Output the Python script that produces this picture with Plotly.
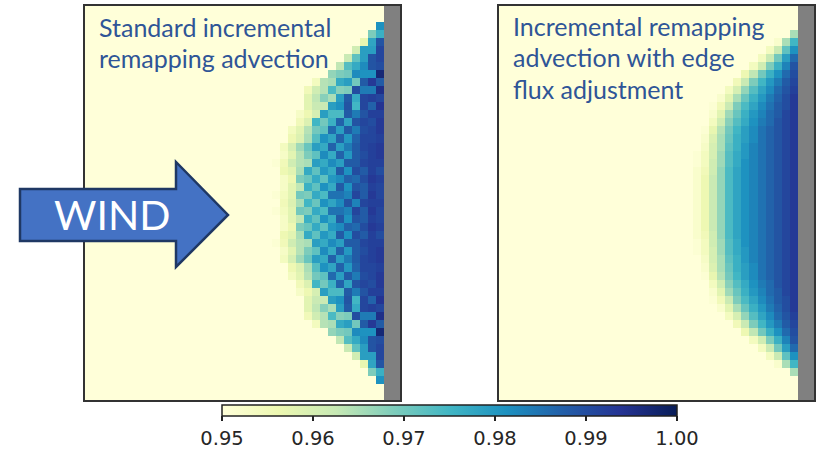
import plotly.graph_objects as go

W, H = 816, 449
N_COLS, N_ROWS, LAND_COLS = 40, 49, 2
BASE = 0.95
TICKS = [0.95, 0.96, 0.97, 0.98, 0.99, 1.00]
TITLES_LEFT = ["Standard incremental", "remapping advection"]
TITLES_RIGHT = ["Incremental remapping", "advection with edge", "flux adjustment"]
COLORSCALE = ["#ffffd9", "#edf8b1", "#c7e9b4", "#7fcdbb", "#41b6c4",
              "#1d91c0", "#225ea8", "#253494", "#081d58"]

# Values by row, listed from the coast (rightmost ocean cell) toward the west.
standard_top_half = [
    [.981],
    [.976, .969],
    [.989, .978, .957],
    [.991, .979, .979, .961],
    [.991, .989, .979, .972, .962],
    [.990, .989, .982, .977, .973, .963],
    [.997, .981, .981, .982, .970, .969, .967],
    [.988, .993, .988, .970, .979, .977, .965, .964, .954],
    [.995, .984, .984, .990, .969, .968, .974, .964, .961, .955],
    [.991, .992, .991, .977, .988, .979, .965, .968, .963, .958],
    [.994, .987, .991, .975, .989, .981, .979, .962, .962, .958],
    [.992, .992, .989, .984, .988, .974, .974, .979, .960, .956, .953],
    [.993, .990, .991, .989, .978, .987, .976, .970, .975, .959, .955],
    [.993, .991, .990, .984, .988, .979, .986, .972, .970, .964, .958, .954],
    [.992, .991, .991, .987, .980, .987, .978, .981, .973, .965, .959, .956],
    [.993, .992, .991, .988, .984, .979, .987, .977, .979, .971, .966, .960, .954],
    [.993, .992, .990, .988, .980, .987, .977, .982, .972, .969, .964, .958, .953],
    [.992, .992, .991, .988, .988, .979, .982, .977, .979, .965, .964, .961, .955, .951],
    [.990, .992, .988, .990, .981, .988, .977, .980, .972, .977, .965, .958, .956],
    [.992, .993, .990, .986, .987, .982, .980, .972, .977, .971, .969, .956, .953],
    [.991, .992, .988, .989, .981, .988, .977, .981, .972, .976, .963, .958, .953],
    [.991, .993, .988, .991, .983, .985, .985, .974, .977, .969, .970, .958, .954, .951],
    [.992, .992, .991, .983, .989, .982, .978, .981, .971, .975, .965, .959, .955],
]
adjusted_top_half = [
    [.965],
    [.975, .965, .952],
    [.981, .972, .962, .954],
    [.986, .979, .970, .962, .954],
    [.989, .983, .976, .969, .961, .954],
    [.990, .986, .981, .976, .970, .963, .956],
    [.991, .988, .984, .980, .975, .969, .962, .955],
    [.992, .989, .986, .982, .978, .973, .967, .960, .954],
    [.993, .990, .987, .984, .980, .976, .971, .965, .958, .952],
    [.993, .990, .988, .985, .982, .978, .974, .969, .962, .955, .951],
    [.993, .991, .988, .986, .983, .980, .976, .971, .966, .958, .952],
    [.993, .991, .989, .986, .984, .981, .977, .973, .968, .961, .954],
    [.993, .991, .989, .987, .985, .982, .979, .975, .970, .964, .957, .951],
    [.993, .991, .989, .987, .985, .982, .979, .976, .971, .965, .959, .952],
    [.993, .991, .989, .987, .985, .983, .980, .976, .972, .965, .960, .953],
    [.993, .991, .989, .987, .985, .983, .980, .977, .973, .966, .960, .954, .951],
    [.993, .991, .989, .987, .985, .983, .981, .977, .973, .966, .961, .954, .951],
    [.993, .991, .989, .987, .985, .983, .981, .978, .974, .967, .961, .955, .952],
    [.993, .991, .989, .987, .985, .983, .981, .978, .974, .967, .962, .956, .952],
    [.993, .991, .989, .987, .985, .983, .981, .978, .974, .967, .962, .956, .952],
    [.993, .991, .989, .987, .985, .983, .981, .978, .974, .967, .962, .956, .952],
    [.993, .991, .989, .987, .985, .983, .981, .978, .974, .967, .962, .956, .952],
]


def make_grid(top_half, pad):
    rows = top_half + top_half[-2::-1]
    ocean = N_COLS - LAND_COLS
    blank = [BASE] * ocean + [None] * LAND_COLS
    grid = [list(blank) for _ in range(pad)]
    for r in rows:
        grid.append([BASE] * (ocean - len(r)) + list(r[::-1]) + [None] * LAND_COLS)
    grid += [list(blank) for _ in range(N_ROWS - len(grid))]
    return grid


fig = go.Figure()
fig.add_trace(go.Heatmap(z=make_grid(standard_top_half, 2), coloraxis="coloraxis",
                         xaxis="x", yaxis="y"))
fig.add_trace(go.Heatmap(z=make_grid(adjusted_top_half, 3), coloraxis="coloraxis",
                         xaxis="x2", yaxis="y2"))


def px_x(v):
    return v / W


def px_y(v):
    return 1 - v / H


frame = dict(showline=True, mirror=True, linecolor="#333333", linewidth=1.8,
             showgrid=False, zeroline=False, ticks="", showticklabels=False)
x_range = [N_COLS - 0.5 - 315 / 8.04, N_COLS - 0.5]
y_range = [N_ROWS - 0.5, -0.5]

arrow_px = [(20, 189), (176, 189), (176, 162), (228, 215), (176, 267), (176, 241), (20, 241)]
path = "M " + " L ".join(f"{px_x(a):.5f} {px_y(b):.5f}" for a, b in arrow_px) + " Z"

annotations = []
TEXT_FONT = dict(family="Lato", size=25, color="#2f5597")
for text, x, y in [(TITLES_LEFT[0], 97, 27), (TITLES_LEFT[1], 97, 58),
                   (TITLES_RIGHT[0], 511, 26), (TITLES_RIGHT[1], 511, 57), (TITLES_RIGHT[2], 511, 89)]:
    annotations.append(dict(text=text, x=px_x(x), y=px_y(y), xref="paper", yref="paper",
                            xanchor="left", yanchor="middle", showarrow=False, font=TEXT_FONT))
annotations.append(dict(text="WIND", x=px_x(112), y=px_y(214), xref="paper", yref="paper",
                        xanchor="center", yanchor="middle", showarrow=False,
                        font=dict(family="Lato", size=41, color="white")))

fig.update_layout(
    width=W, height=H, margin=dict(l=0, r=0, t=0, b=0, autoexpand=False),
    paper_bgcolor="white", plot_bgcolor="#808080", showlegend=False,
    xaxis=dict(domain=[px_x(85), px_x(400)], range=x_range, **frame),
    yaxis=dict(domain=[px_y(400), px_y(5.5)], range=y_range, **frame),
    xaxis2=dict(domain=[px_x(498.5), px_x(814)], range=x_range, anchor="y2", **frame),
    yaxis2=dict(domain=[px_y(400), px_y(5.5)], range=y_range, anchor="x2", **frame),
    coloraxis=dict(
        cmin=BASE, cmax=1.0, colorscale=COLORSCALE,
        colorbar=dict(orientation="h", x=px_x(222), xanchor="left", y=px_y(405), yanchor="top",
                      len=455, lenmode="pixels", thickness=11, xpad=0, ypad=0,
                      outlinecolor="#222222", outlinewidth=1.5,
                      tickvals=TICKS, tickformat=".2f", ticks="outside", ticklen=5,
                      tickwidth=1.5, tickcolor="#222222",
                      tickfont=dict(family="DejaVu Sans", size=19.5, color="#262626")),
    ),
    shapes=[dict(type="path", xref="paper", yref="paper", path=path,
                 fillcolor="#4472c4", line=dict(color="#1f3864", width=2.5), layer="above")],
    annotations=annotations,
)

fig.write_html("out.html", config={"displayModeBar": False},
               post_script="document.body.style.margin='0';document.body.style.overflow='hidden';")
